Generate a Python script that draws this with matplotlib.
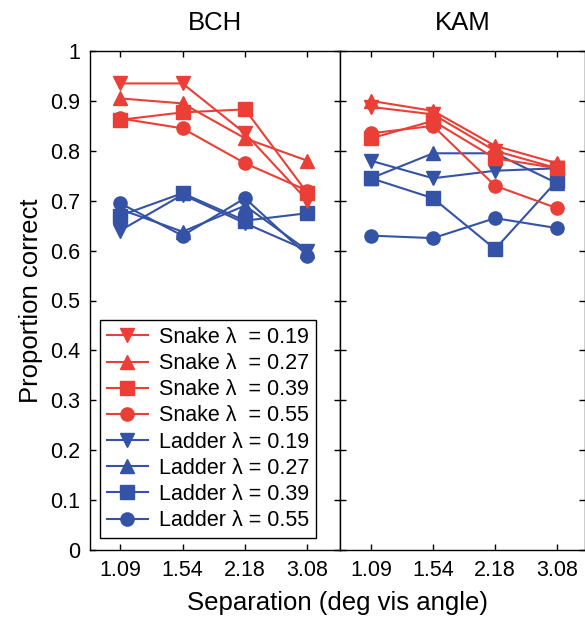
import matplotlib
matplotlib.use("Agg")
import matplotlib.pyplot as plt

plt.rcParams['font.family'] = ['Liberation Sans', 'DejaVu Sans']

separations = ["1.09", "1.54", "2.18", "3.08"]
lambdas = ["0.19", "0.27", "0.39", "0.55"]
markers = ["v", "^", "s", "o"]

bch_snake = [
    [0.935, 0.935, 0.835, 0.700],
    [0.905, 0.895, 0.825, 0.780],
    [0.862, 0.877, 0.883, 0.715],
    [0.865, 0.845, 0.775, 0.720],
]
bch_ladder = [
    [0.640, 0.712, 0.655, 0.600],
    [0.683, 0.638, 0.690, 0.600],
    [0.670, 0.715, 0.660, 0.675],
    [0.695, 0.630, 0.705, 0.590],
]
kam_snake = [
    [0.888, 0.873, 0.800, 0.765],
    [0.900, 0.880, 0.810, 0.775],
    [0.825, 0.860, 0.785, 0.765],
    [0.835, 0.850, 0.730, 0.685],
]
kam_ladder = [
    [0.780, 0.745, 0.760, 0.765],
    [0.745, 0.795, 0.795, 0.735],
    [0.745, 0.705, 0.603, 0.740],
    [0.630, 0.625, 0.665, 0.645],
]

RED = "#EA3F36"
BLUE = "#3553A6"

W, H = 585, 619
fig = plt.figure(figsize=(W / 100, H / 100), dpi=100)
ax1 = fig.add_axes([90 / W, (H - 550) / H, 250 / W, 499 / H])
ax2 = fig.add_axes([340 / W, (H - 550) / H, 245 / W, 499 / H])

x = list(range(len(separations)))
yticks = [i / 10 for i in range(11)]
ylabels = ["0"] + [f"{v:.1f}" for v in yticks[1:-1]] + ["1"]

def draw(ax, snake, ladder, title):
    lh = []
    for i, lam in enumerate(lambdas):
        h, = ax.plot(x, ladder[i], color=BLUE, marker=markers[i], ms=9.5, lw=1.5,
                     label=f"Ladder λ = {lam}")
        lh.append(h)
    sh = []
    for i, lam in enumerate(lambdas):
        h, = ax.plot(x, snake[i], color=RED, marker=markers[i], ms=9.5, lw=1.5,
                     label=f"Snake λ  = {lam}")
        sh.append(h)
    ax.set_ylim(0, 1)
    ax.set_xticks(x)
    ax.set_xticklabels(separations, fontsize=15.5)
    ax.set_yticks(yticks)
    ax.tick_params(direction="in", top=True, right=True, length=4, width=1, pad=7)
    for s in ax.spines.values():
        s.set_linewidth(1.0)
    ax.set_title(title, fontsize=18.5, pad=15)
    return sh + lh

handles = draw(ax1, bch_snake, bch_ladder, "BCH")
draw(ax2, kam_snake, kam_ladder, "KAM")
ax1.set_xlim(-0.48, 3.52)
ax2.set_xlim(-0.5, 3.45)
ax1.set_yticklabels(ylabels, fontsize=15.5)
ax2.set_yticklabels([])
ax1.set_ylabel("Proportion correct", fontsize=18.5, labelpad=5)

leg = ax1.legend(handles=handles, loc="lower left", bbox_to_anchor=(0.04, 0.024),
                 fontsize=15.5, frameon=True, fancybox=False, edgecolor="black",
                 framealpha=1, handlelength=1.9, labelspacing=0.24, borderpad=0.32,
                 handletextpad=0.5, borderaxespad=0)
leg.get_frame().set_linewidth(1.0)

fig.text(338 / W, 1 - 603 / H, "Separation (deg vis angle)", ha="center", va="center", fontsize=18.5)

fig.savefig("out.png", dpi=100)
